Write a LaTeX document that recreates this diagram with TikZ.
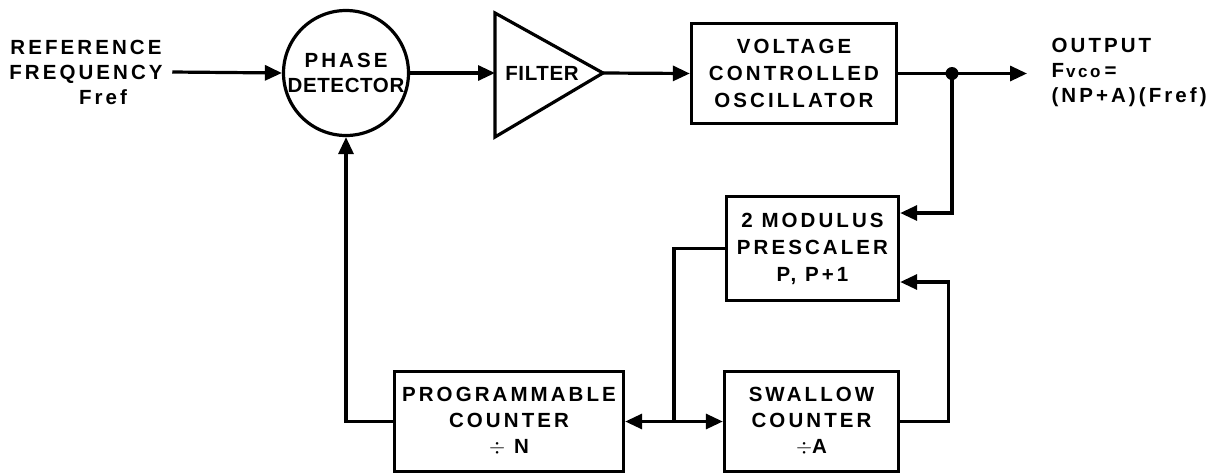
\documentclass[tikz,border=0pt]{standalone}
\usepackage{fontspec}
\setmainfont{Liberation Sans}
\newfontfamily\lab{Liberation Sans}[LetterSpace=15]
\newfontfamily\labt{Liberation Sans}[LetterSpace=3]
\usetikzlibrary{arrows.meta}
\begin{document}
\begin{tikzpicture}[x=1pt,y=-1pt,line width=3.2pt,
  txt/.style={font=\lab\bfseries\fontsize{20.5}{25}\selectfont,align=center,inner sep=0pt},
  box/.style={draw,rectangle,txt,line width=3.4pt},
  arr/.style={-{Triangle[length=17pt,width=15pt]}}]
\useasboundingbox (0,0) rectangle (1232,475);
% nodes
\node[txt] (ref) at (86,72) {REFERENCE\\FREQUENCY\\\hspace*{34pt}Fref};
\node[draw,circle,minimum size=125pt,txt] (pd) at (346,73) {PHASE\\{\labt DETECTOR}};
\coordinate (fin) at (495,73);
\coordinate (fout) at (603,73);
\draw[line join=miter] (495,13) -- (fout) -- (495,137) -- cycle;
\node[txt] (filt) at (542,73) {{\labt FILTER}};
\node[box,minimum width=205pt,minimum height=100pt,font=\lab\bfseries\fontsize{20.5}{27}\selectfont] (vco) at (794,73.5) {VOLTAGE\\CONTROLLED\\OSCILLATOR};
\coordinate (sp) at (952,73.5);
\coordinate (outp) at (1027,73.5);
\node[txt,anchor=west,align=left] (otxt) at (1050,72) {OUTPUT\\F\kern2pt{\fontsize{17}{25}\selectfont vco}\kern4pt=\\(NP\kern3pt+A)(Fref)};
\node[box,minimum width=172pt,minimum height=104pt,font=\lab\bfseries\fontsize{20.5}{27}\selectfont] (pre) at (812.5,248.5) {2 MODULUS\\PRESCALER\\P,\ P+1};
\node[box,minimum width=174pt,minimum height=100pt,font=\lab\bfseries\fontsize{20.5}{26}\selectfont] (sw) at (811.5,421.5) {SWALLOW\\COUNTER\\\(\div\)A};
\node[box,minimum width=229pt,minimum height=100pt,font=\lab\bfseries\fontsize{20.5}{26}\selectfont] (prog) at (509,421.5) {PROGRAMMABLE\\COUNTER\\\(\div\) N};
\coordinate (j) at (674,421.5);
% connectors
\draw[arr] (ref.east) ++(8,0) -- (pd.west);
\draw[arr] (pd.east) -- (fin);
\draw[arr] (fout) -- (vco.west);
\draw[arr] (vco.east) -- (outp);
\fill (sp) circle (6.5pt);
\draw[arr] (sp) |- ([yshift=35.5pt]pre.east);
\draw[arr] (sw.east) -- ++(48,0) |- ([yshift=-33.5pt]pre.east);
\draw (pre.west) -| (j);
\draw[arr] (j) -- (prog.east);
\draw[arr] (j) -- (sw.west);
\draw[arr] (prog.west) -| (pd.south);
\end{tikzpicture}
\end{document}
